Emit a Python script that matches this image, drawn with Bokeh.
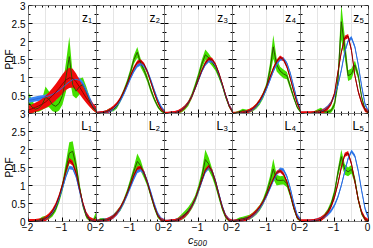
import numpy as np
from bokeh.plotting import figure
from bokeh.models import (Range1d, LinearAxis, SingleIntervalTicker, FixedTicker,
                          Label, GridBox, Spacer)
from bokeh.embed import file_html
from bokeh.resources import INLINE

# ---------------- data ----------------
XS = [-2.0, -1.9, -1.8, -1.7, -1.6, -1.5, -1.4, -1.3, -1.2, -1.1, -1.0,
      -0.9, -0.8, -0.7, -0.6, -0.5, -0.4, -0.3, -0.2, -0.1, 0.0]

Z1_GREEN = [0.30, 0.18, 0.12, 0.15, 0.25, 0.45, 0.40, 0.25, 0.20, 0.28, 0.50, 1.00, 1.58, 0.80, 0.62, 0.75, 0.80, 0.60, 0.35, 0.15, 0.05]
Z1_GREEN_HW = [0.30, 0.20, 0.08, 0.10, 0.15, 0.30, 0.22, 0.18, 0.17, 0.20, 0.25, 0.40, 0.55, 0.30, 0.20, 0.22, 0.20, 0.15, 0.10, 0.06, 0.04]
Z1_BLUE = [0.37, 0.38, 0.40, 0.42, 0.44, 0.46, 0.49, 0.53, 0.58, 0.64, 0.72, 0.80, 0.88, 0.94, 0.95, 0.92, 0.82, 0.62, 0.40, 0.20, 0.08]
Z1_BLUE_HW = 0.07
Z1_RED = [0.10, 0.13, 0.17, 0.21, 0.26, 0.32, 0.40, 0.49, 0.59, 0.70, 0.82, 0.93, 0.99, 0.98, 0.88, 0.74, 0.58, 0.43, 0.30, 0.18, 0.10]
Z1_RED_HW = [0.12, 0.12, 0.13, 0.14, 0.15, 0.17, 0.19, 0.21, 0.23, 0.25, 0.27, 0.28, 0.28, 0.26, 0.23, 0.20, 0.17, 0.14, 0.12, 0.10, 0.09]

Z2_GREEN = [0.00, 0.01, 0.02, 0.06, 0.10, 0.11, 0.20, 0.38, 0.60, 0.85, 1.15, 1.50, 1.70, 1.40, 1.20, 0.95, 0.65, 0.40, 0.20, 0.07, 0.01]
Z2_GREEN_HW = [0.01, 0.02, 0.03, 0.04, 0.05, 0.05, 0.06, 0.07, 0.08, 0.09, 0.10, 0.12, 0.15, 0.12, 0.10, 0.09, 0.08, 0.06, 0.05, 0.03, 0.02]
Z2_BLUE = [0.00, 0.01, 0.02, 0.04, 0.08, 0.14, 0.23, 0.36, 0.54, 0.76, 0.98, 1.18, 1.33, 1.38, 1.33, 1.17, 0.92, 0.64, 0.38, 0.18, 0.05]
Z2_BLUE_HW = 0.05
Z2_RED = [0.00, 0.01, 0.02, 0.05, 0.10, 0.17, 0.27, 0.41, 0.60, 0.82, 1.05, 1.26, 1.42, 1.46, 1.36, 1.15, 0.87, 0.58, 0.32, 0.13, 0.03]
Z2_RED_HW = 0.05

Z3_GREEN = [0.00, 0.00, 0.01, 0.02, 0.04, 0.08, 0.16, 0.28, 0.48, 0.75, 1.05, 1.38, 1.63, 1.55, 1.42, 1.28, 1.05, 0.78, 0.46, 0.20, 0.04]
Z3_GREEN_HW = [0.01, 0.01, 0.02, 0.03, 0.04, 0.05, 0.06, 0.07, 0.08, 0.09, 0.10, 0.12, 0.15, 0.12, 0.10, 0.09, 0.08, 0.06, 0.05, 0.03, 0.02]
Z3_BLUE = [0.00, 0.00, 0.01, 0.02, 0.05, 0.10, 0.18, 0.30, 0.47, 0.69, 0.93, 1.17, 1.36, 1.46, 1.45, 1.33, 1.10, 0.80, 0.50, 0.23, 0.06]
Z3_BLUE_HW = 0.04
Z3_RED = [0.00, 0.00, 0.01, 0.02, 0.05, 0.10, 0.18, 0.30, 0.47, 0.70, 0.95, 1.20, 1.40, 1.52, 1.50, 1.36, 1.12, 0.82, 0.50, 0.22, 0.05]
Z3_RED_HW = 0.05

Z4_GREEN = [0.00, 0.02, 0.04, 0.08, 0.06, 0.07, 0.12, 0.20, 0.32, 0.50, 0.75, 1.20, 1.85, 1.35, 1.18, 1.10, 1.05, 0.75, 0.45, 0.18, 0.04]
Z4_GREEN_HW = [0.01, 0.03, 0.04, 0.05, 0.05, 0.05, 0.06, 0.07, 0.08, 0.09, 0.10, 0.18, 0.33, 0.18, 0.12, 0.12, 0.10, 0.08, 0.06, 0.04, 0.02]
Z4_BLUE = [0.00, 0.00, 0.01, 0.02, 0.04, 0.07, 0.12, 0.20, 0.32, 0.48, 0.68, 0.92, 1.17, 1.37, 1.50, 1.52, 1.40, 1.12, 0.75, 0.38, 0.10]
Z4_BLUE_HW = 0.04
Z4_RED = [0.00, 0.00, 0.01, 0.02, 0.04, 0.08, 0.14, 0.23, 0.36, 0.53, 0.75, 1.00, 1.25, 1.45, 1.56, 1.50, 1.30, 0.98, 0.62, 0.30, 0.08]
Z4_RED_HW = 0.05

Z5_GREEN = [0.00, 0.00, 0.00, 0.00, 0.02, 0.06, 0.10, 0.05, 0.04, 0.08, 0.25, 0.90, 2.55, 1.85, 1.05, 1.10, 1.35, 1.05, 0.45, 0.10, 0.01]
Z5_GREEN_HW = [0.01, 0.01, 0.02, 0.03, 0.04, 0.06, 0.06, 0.05, 0.05, 0.06, 0.10, 0.20, 0.50, 0.30, 0.15, 0.15, 0.12, 0.10, 0.06, 0.04, 0.02]
Z5_BLUE = [0.00, 0.00, 0.00, 0.00, 0.01, 0.02, 0.05, 0.10, 0.18, 0.30, 0.50, 0.78, 1.20, 1.70, 2.02, 2.10, 1.85, 1.35, 0.75, 0.25, 0.05]
Z5_BLUE_HW = 0.05
Z5_RED = [0.00, 0.00, 0.00, 0.00, 0.01, 0.02, 0.04, 0.08, 0.15, 0.28, 0.55, 1.15, 1.70, 2.10, 2.15, 1.75, 1.05, 0.60, 0.29, 0.10, 0.03]
Z5_RED_HW = 0.06

L1_GREEN = [0.00, 0.00, 0.01, 0.03, 0.08, 0.10, 0.12, 0.20, 0.35, 0.62, 0.98, 1.45, 1.90, 1.95, 1.55, 0.95, 0.45, 0.15, 0.03, 0.03, 0.15]
L1_GREEN_HW = [0.01, 0.01, 0.02, 0.03, 0.05, 0.06, 0.06, 0.07, 0.08, 0.10, 0.13, 0.20, 0.30, 0.28, 0.18, 0.12, 0.08, 0.06, 0.04, 0.04, 0.15]
L1_BLUE = [0.00, 0.00, 0.00, 0.01, 0.03, 0.07, 0.14, 0.25, 0.41, 0.64, 0.93, 1.25, 1.50, 1.48, 1.25, 0.85, 0.47, 0.20, 0.06, 0.01, 0.00]
L1_BLUE_HW = 0.05
L1_RED = [0.00, 0.00, 0.00, 0.01, 0.03, 0.08, 0.16, 0.28, 0.45, 0.70, 1.02, 1.40, 1.70, 1.62, 1.35, 0.90, 0.50, 0.20, 0.06, 0.01, 0.00]
L1_RED_HW = 0.07

L2_GREEN = [0.00, 0.05, 0.06, 0.04, 0.08, 0.15, 0.25, 0.36, 0.55, 0.80, 1.10, 1.40, 1.67, 1.55, 1.30, 1.05, 0.72, 0.40, 0.15, 0.04, 0.01]
L2_GREEN_HW = [0.01, 0.04, 0.04, 0.03, 0.04, 0.05, 0.06, 0.07, 0.08, 0.09, 0.10, 0.12, 0.22, 0.15, 0.10, 0.08, 0.07, 0.06, 0.05, 0.03, 0.02]
L2_BLUE = [0.00, 0.01, 0.02, 0.04, 0.08, 0.14, 0.23, 0.36, 0.53, 0.74, 0.97, 1.20, 1.40, 1.45, 1.35, 1.10, 0.80, 0.48, 0.21, 0.06, 0.01]
L2_BLUE_HW = 0.06
L2_RED = [0.00, 0.01, 0.02, 0.04, 0.08, 0.14, 0.24, 0.38, 0.56, 0.78, 1.02, 1.28, 1.48, 1.50, 1.35, 1.08, 0.75, 0.43, 0.18, 0.05, 0.01]
L2_RED_HW = 0.05

L3_GREEN = [0.00, 0.00, 0.01, 0.02, 0.06, 0.12, 0.20, 0.30, 0.44, 0.62, 0.90, 1.25, 1.72, 1.60, 1.35, 1.05, 0.70, 0.36, 0.12, 0.03, 0.00]
L3_GREEN_HW = [0.01, 0.01, 0.02, 0.03, 0.05, 0.08, 0.10, 0.10, 0.10, 0.10, 0.12, 0.15, 0.28, 0.18, 0.12, 0.10, 0.08, 0.07, 0.05, 0.03, 0.02]
L3_BLUE = [0.00, 0.00, 0.01, 0.02, 0.05, 0.10, 0.17, 0.27, 0.42, 0.60, 0.85, 1.12, 1.38, 1.50, 1.40, 1.13, 0.77, 0.42, 0.16, 0.04, 0.00]
L3_BLUE_HW = 0.05
L3_RED = [0.00, 0.00, 0.01, 0.02, 0.05, 0.10, 0.17, 0.27, 0.42, 0.62, 0.88, 1.15, 1.42, 1.53, 1.40, 1.12, 0.75, 0.40, 0.15, 0.03, 0.00]
L3_RED_HW = 0.05

L4_GREEN = [0.00, 0.03, 0.06, 0.08, 0.10, 0.12, 0.18, 0.27, 0.38, 0.55, 0.80, 1.10, 1.46, 1.15, 1.14, 1.15, 1.05, 0.75, 0.38, 0.10, 0.01]
L4_GREEN_HW = [0.01, 0.03, 0.05, 0.05, 0.06, 0.07, 0.07, 0.08, 0.08, 0.09, 0.10, 0.15, 0.28, 0.15, 0.12, 0.12, 0.10, 0.08, 0.06, 0.04, 0.02]
L4_BLUE = [0.00, 0.01, 0.02, 0.04, 0.07, 0.11, 0.17, 0.26, 0.37, 0.52, 0.70, 0.92, 1.14, 1.33, 1.45, 1.43, 1.25, 0.92, 0.52, 0.18, 0.04]
L4_BLUE_HW = 0.05
L4_RED = [0.00, 0.01, 0.02, 0.04, 0.07, 0.12, 0.19, 0.28, 0.40, 0.55, 0.74, 0.96, 1.18, 1.36, 1.41, 1.32, 1.10, 0.76, 0.40, 0.12, 0.02]
L4_RED_HW = 0.05

L5_GREEN = [0.00, 0.00, 0.00, 0.00, 0.01, 0.03, 0.07, 0.15, 0.28, 0.48, 0.80, 1.35, 1.80, 1.45, 1.38, 1.45, 1.15, 0.60, 0.22, 0.05, 0.01]
L5_GREEN_HW = [0.01, 0.01, 0.01, 0.02, 0.03, 0.04, 0.05, 0.06, 0.07, 0.08, 0.10, 0.12, 0.20, 0.15, 0.12, 0.12, 0.10, 0.08, 0.05, 0.03, 0.01]
L5_BLUE = [0.00, 0.00, 0.00, 0.01, 0.02, 0.04, 0.08, 0.13, 0.20, 0.30, 0.45, 0.68, 1.00, 1.38, 1.75, 1.95, 1.82, 1.40, 0.85, 0.35, 0.10]
L5_BLUE_HW = 0.05
L5_RED = [0.00, 0.00, 0.00, 0.00, 0.01, 0.03, 0.07, 0.14, 0.25, 0.42, 0.68, 1.05, 1.50, 1.85, 1.90, 1.60, 1.10, 0.60, 0.25, 0.07, 0.01]
L5_RED_HW = 0.06

PANEL_NAMES = ["z\u2081", "z\u2082", "z\u2083", "z\u2084", "z\u2085",
               "L\u2081", "L\u2082", "L\u2083", "L\u2084", "L\u2085"]
GREENS = [Z1_GREEN, Z2_GREEN, Z3_GREEN, Z4_GREEN, Z5_GREEN, L1_GREEN, L2_GREEN, L3_GREEN, L4_GREEN, L5_GREEN]
GREEN_HWS = [Z1_GREEN_HW, Z2_GREEN_HW, Z3_GREEN_HW, Z4_GREEN_HW, Z5_GREEN_HW,
             L1_GREEN_HW, L2_GREEN_HW, L3_GREEN_HW, L4_GREEN_HW, L5_GREEN_HW]
BLUES = [Z1_BLUE, Z2_BLUE, Z3_BLUE, Z4_BLUE, Z5_BLUE, L1_BLUE, L2_BLUE, L3_BLUE, L4_BLUE, L5_BLUE]
BLUE_HWS = [Z1_BLUE_HW, Z2_BLUE_HW, Z3_BLUE_HW, Z4_BLUE_HW, Z5_BLUE_HW,
            L1_BLUE_HW, L2_BLUE_HW, L3_BLUE_HW, L4_BLUE_HW, L5_BLUE_HW]
REDS = [Z1_RED, Z2_RED, Z3_RED, Z4_RED, Z5_RED, L1_RED, L2_RED, L3_RED, L4_RED, L5_RED]
RED_HWS = [Z1_RED_HW, Z2_RED_HW, Z3_RED_HW, Z4_RED_HW, Z5_RED_HW,
           L1_RED_HW, L2_RED_HW, L3_RED_HW, L4_RED_HW, L5_RED_HW]

X_TICKS = [-2, -1, 0]
X_TICK_LABELS = ["\u22122", "\u22121", "0"]
Y_TICKS = [0, 0.5, 1, 1.5, 2, 2.5, 3]
Y_TICK_LABELS = ["0", "0.5", "1", "1.5", "2", "2.5", "3"]
X_LABEL = "c\u2085\u2080\u2080"
Y_LABEL = "PDF"

# ---------------- style ----------------
W, H = 68, 108          # panel frame size
T, R, LW, B = 5, 6, 27, 26
FONT = "Liberation Sans"
GREEN_BAND, BLUE_BAND, RED_BAND = "#44e000", "#3a86f4", "#f00a0a"
GREEN_LINE, BLUE_LINE, RED_LINE = "#2e5200", "#2b6bdc", "#8a0000"


def band(p, x, c, hw, color):
    c = np.asarray(c, dtype=float)
    hw = np.broadcast_to(np.asarray(hw, dtype=float), c.shape)
    p.varea(x=x, y1=np.maximum(c - hw, 0.0), y2=c + hw, fill_color=color)


def make_panel(r, col):
    k = r * 5 + col
    p = figure(frame_width=W, frame_height=H, x_range=Range1d(-2, 0), y_range=Range1d(0, 3),
               x_axis_location=None, y_axis_location=None, toolbar_location=None,
               output_backend="svg", title=None,
               min_border_left=0, min_border_right=R if col == 4 else 0,
               min_border_top=T if r == 0 else 0, min_border_bottom=1 if r == 1 else 0,
               outline_line_color=None, border_fill_alpha=0, background_fill_color="white")
    x = np.asarray(XS, dtype=float)
    band(p, x, GREENS[k], GREEN_HWS[k], GREEN_BAND)
    band(p, x, BLUES[k], BLUE_HWS[k], BLUE_BAND)
    band(p, x, REDS[k], RED_HWS[k], RED_BAND)
    p.line(x, GREENS[k], line_color=GREEN_LINE, line_width=1)
    p.line(x, BLUES[k], line_color=BLUE_LINE, line_width=1)
    p.line(x, REDS[k], line_color=RED_LINE, line_width=1)

    specs = [("below", 0, True, r == 1), ("above", 3, True, True),
             ("left", -2, False, True), ("right", 0, False, col == 4)]
    for side, loc, is_x, show_line in specs:
        ticker = (SingleIntervalTicker(interval=1, num_minor_ticks=5) if is_x
                  else SingleIntervalTicker(interval=0.5, num_minor_ticks=2))
        ax = LinearAxis(ticker=ticker, fixed_location=loc,
                        major_tick_in=4, major_tick_out=0, minor_tick_in=2, minor_tick_out=0,
                        major_tick_line_color="black", minor_tick_line_color="black",
                        axis_line_color="black" if show_line else None,
                        major_label_text_color=None, major_label_text_font_size="0px",
                        major_label_standoff=0)
        p.add_layout(ax, side)

    p.add_layout(Label(x=-0.13, y=2.86, text=PANEL_NAMES[k], text_align="right",
                       text_baseline="top", text_font=FONT, text_font_size="12px",
                       text_color="black"))
    return p


def pdf_label_fig(r):
    # transparent figure overlaid on the label column, carrying one "PDF" title per row
    f = figure(frame_width=1, frame_height=H, x_range=Range1d(0, 1), y_range=Range1d(0, 3),
               min_border_left=LW - 1, min_border_right=0,
               min_border_top=T if r == 0 else 0, min_border_bottom=0,
               x_axis_location=None, y_axis_location="left", toolbar_location=None,
               output_backend="svg", title=None, outline_line_color=None,
               background_fill_alpha=0, border_fill_alpha=0)
    f.grid.visible = False
    a = f.yaxis[0]
    a.ticker = FixedTicker(ticks=[], minor_ticks=[])
    a.major_tick_in = a.major_tick_out = a.minor_tick_in = a.minor_tick_out = 0
    a.axis_line_color = None
    a.axis_label = Y_LABEL
    a.axis_label_standoff = 13
    a.axis_label_text_font = FONT
    a.axis_label_text_font_size = "10px"
    a.axis_label_text_font_style = "normal"
    a.axis_label_text_color = "black"
    return f


# background figure carrying the shared tick labels and the x title
x_over = {}
for c in range(5):
    for t, lab in zip(X_TICKS, X_TICK_LABELS):
        pos = t + 2 * c
        x_over[pos] = x_over.get(pos, "") + lab
y_over = {}
for r_off, skip0 in ((0, False), (3, True)):
    for t, lab in zip(Y_TICKS, Y_TICK_LABELS):
        if skip0 and t == 0:
            continue
        y_over[t + r_off] = lab

bg = figure(frame_width=5 * W, frame_height=2 * H, x_range=Range1d(-2, 8), y_range=Range1d(0, 6),
            min_border_left=LW, min_border_right=R, min_border_top=T, min_border_bottom=B,
            toolbar_location=None, output_backend="svg", title=None,
            outline_line_color=None, background_fill_alpha=0, border_fill_alpha=0)
bg.grid.visible = False
xa = bg.xaxis[0]
xa.ticker = FixedTicker(ticks=sorted(x_over.keys()), minor_ticks=[])
xa.major_label_overrides = {float(k): v for k, v in x_over.items()}
ya = bg.yaxis[0]
ya.ticker = FixedTicker(ticks=sorted(y_over.keys()), minor_ticks=[])
ya.major_label_overrides = {float(k): v for k, v in y_over.items()}
for ax in (xa, ya):
    ax.major_tick_in = 0
    ax.major_tick_out = 0
    ax.minor_tick_in = 0
    ax.minor_tick_out = 0
    ax.axis_line_color = None
    ax.major_label_text_font = FONT
    ax.major_label_text_font_size = "10px"
    ax.major_label_text_color = "black"
xa.major_label_standoff = 1
ya.major_label_standoff = 2
xa.axis_label = X_LABEL
xa.axis_label_standoff = 0
xa.axis_label_text_font = FONT
xa.axis_label_text_font_size = "11px"
xa.axis_label_text_font_style = "italic"
xa.axis_label_text_color = "black"

children = [(bg, 0, 0, 3, 6), (Spacer(width=LW, height=B), 2, 0),
            (pdf_label_fig(0), 0, 0), (pdf_label_fig(1), 1, 0)]
for r in range(2):
    for c in range(5):
        children.append((make_panel(r, c), r, c + 1))

layout = GridBox(children=children, spacing=0)

open("out.html", "w").write(file_html(layout, INLINE))
